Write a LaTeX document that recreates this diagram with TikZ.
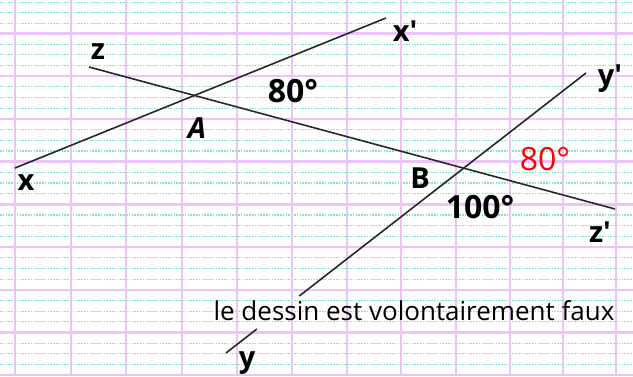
\documentclass[tikz,border=0pt]{standalone}
\usepackage{fontspec}
\setmainfont{Open Sans}
\usetikzlibrary{calc}
\definecolor{gridpink}{RGB}{236,196,250}
\definecolor{gridmint}{RGB}{125,232,200}
\definecolor{linegray}{RGB}{40,40,40}
\tikzset{
  pinkline/.style={draw=gridpink,line width=2.4pt},
  mintline/.style={draw=gridmint,line width=1.1pt,dash pattern=on 1.5pt off 1.3pt},
  figline/.style={draw=linegray,line width=1.6pt},
  lbl/.style={inner sep=0pt,font=\fontsize{29}{32}\selectfont\bfseries},
  ang/.style={inner sep=0pt,font=\fontsize{32}{35}\selectfont\bfseries},
  note/.style={inner sep=0pt,font=\fontsize{26}{29}\selectfont}
}
\begin{document}
\begin{tikzpicture}[x=1pt,y=-1pt]
\useasboundingbox (0,0) rectangle (633,376);
\fill[white] (0,0) rectangle (633,376);
% grid: mint dotted lines
\foreach \k in {0,...,8}{
  \foreach \j in {1,2,3}{
    \draw[mintline] (0,{33.5+42.7*\k+10.7*\j}) -- (633,{33.5+42.7*\k+10.7*\j});
  }
}
\foreach \j in {1,2,3}{
  \draw[mintline] (0,{33.5-10.3*\j}) -- (633,{33.5-10.3*\j});
}
% grid: pink lines
\foreach \k in {0,...,8}{
  \draw[pinkline] (0,{33.5+42.7*\k}) -- (633,{33.5+42.7*\k});
}
\foreach \xx in {15,70.5,126,181.5,236.7,291.7,346.5,401.3,456.3,509.7,563,616.3}{
  \draw[pinkline,line width=2pt] (\xx,0) -- (\xx,376);
}
% end points of the three lines
\coordinate (xa) at (15,168);
\coordinate (xb) at (386,18);
\coordinate (za) at (89,67);
\coordinate (zb) at (615,209);
\coordinate (ya) at (226,353);
\coordinate (yb) at (586,73);
\coordinate (ylow) at ($(ya)!0.0857!(yb)$);
\coordinate (yhigh) at ($(ya)!0.2036!(yb)$);
\draw[figline] (xa) -- (xb);
\draw[figline] (za) -- (zb);
\draw[figline] (ya) -- (ylow);
\draw[figline] (yhigh) -- (yb);
% labels
\node[lbl] (lz) at (98,52) {z};
\node[lbl] (lx) at (26,183) {x};
\node[lbl] (lxp) at (405,31) {x\textquotesingle};
\node[lbl] (lyp) at (610,79) {y\textquotesingle};
\node[lbl] (lzp) at (600,232) {z\textquotesingle};
\node[lbl] (ly) at (247,363) {y};
\node[lbl,font=\fontsize{29}{32}\selectfont\bfseries\itshape] (lA) at (197,128) {A};
\node[lbl] (lB) at (420,178) {B};
\node[ang] (a1) at (293,91) {80°};
\node[ang,font=\fontsize{32}{35}\selectfont,text=red] (a2) at (545,159) {80°};
\node[ang] (a3) at (480,207) {100°};
\node[note] (txt) at (414,311) {le dessin est volontairement faux};
\end{tikzpicture}
\end{document}
